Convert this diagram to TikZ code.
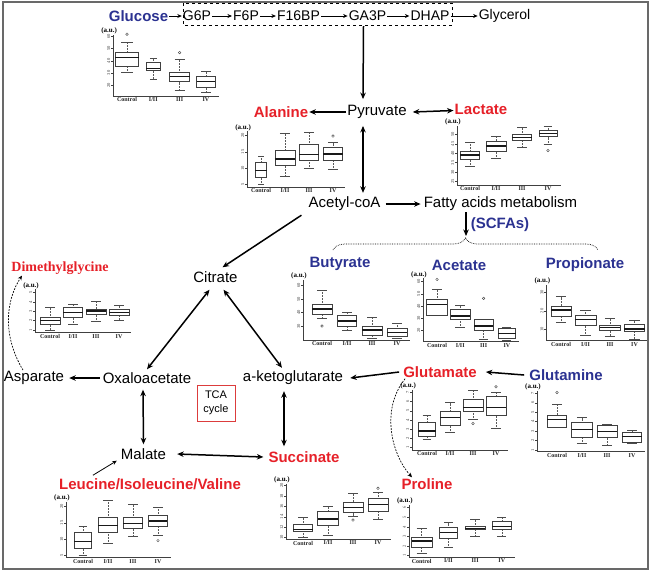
\documentclass[tikz,border=0pt]{standalone}
\usepackage{fontspec}
\setmainfont{Liberation Sans}
\newfontfamily\plotfont{Liberation Serif}
\usepackage{xcolor}
\usepackage{tikz}
\usetikzlibrary{arrows.meta,decorations.pathreplacing}
\definecolor{metred}{RGB}{230,32,40}
\definecolor{metblue}{RGB}{43,50,145}
\definecolor{tcared}{RGB}{220,60,60}
\definecolor{framegray}{RGB}{105,105,105}
\tikzset{met/.style={inner sep=1pt,font=\fontsize{15}{17}\selectfont},
  chainmet/.style={inner sep=1pt,font=\fontsize{14}{16}\selectfont},
  upmet/.style={inner sep=1pt,text=metred,font=\fontsize{15}{17}\selectfont\bfseries},
  dnmet/.style={inner sep=1pt,text=metblue,font=\fontsize{15}{17}\selectfont\bfseries},
  axl/.style={line width=0.6pt,draw=black!75},
  bx/.style={line width=0.6pt,draw=black!75},
  medl/.style={line width=1.4pt,draw=black!90},
  whisk/.style={line width=0.5pt,draw=black!65,densely dotted},
  capl/.style={line width=0.55pt,draw=black!70},
  outl/.style={line width=0.45pt,draw=black!70},
  ticklab/.style={rotate=90,anchor=south,inner sep=0.6pt,text=black!75,font=\plotfont\fontsize{4.5}{4.5}\selectfont},
  catlab/.style={anchor=north,inner sep=1.5pt,text=black!85,font=\plotfont\bfseries\fontsize{6}{6}\selectfont},
  aulab/.style={anchor=south,inner sep=0.5pt,xshift=-4pt,font=\plotfont\bfseries\fontsize{7}{7}\selectfont}}
% one box: position, half width, min, q1, median, q3, max
\newcommand{\bxgrp}[7]{%
  \draw[whisk] (#1,#3) -- (#1,#4) (#1,#6) -- (#1,#7);
  \draw[capl] ({#1-#2/2},#3) -- ({#1+#2/2},#3) ({#1-#2/2},#7) -- ({#1+#2/2},#7);
  \draw[bx] ({#1-#2},#4) rectangle ({#1+#2},#6);
  \draw[medl] ({#1-#2},#5) -- ({#1+#2},#5);}
\newcommand{\bxout}[2]{\draw[outl] (#1,#2) circle (1.3pt);}
% axes: axis x, low, top, ticks
\newcommand{\bxaxes}[4]{%
  \draw[axl] (#1,#3) -- (#1,#2) -- (4.5,#2);
  \foreach \t in {#4} {\draw[axl] (#1,\t) -- ++(-2pt,0) node[ticklab] {\t};}
  \foreach \g/\lab in {1/Control,2/{I/II},3/III,4/IV} {\node[catlab] at (\g,#2) {\lab};}
  \node[aulab] at (#1,#3) {(a.u.)};}

\begin{document}
\begin{tikzpicture}[x=1pt,y=-1pt,>={Stealth[length=6.5pt,width=5.5pt]}]
    \useasboundingbox (0,0) rectangle (650,574);
    \draw[framegray,line width=1.4pt] (3,2) rectangle (648,569);

    \node[dnmet] (glucose) at (138.5,16) {Glucose};
    \node[chainmet] (g6p) at (197,16) {G6P};
    \node[chainmet] (f6p) at (246,16) {F6P};
    \node[chainmet] (f16bp) at (298.5,16) {F16BP};
    \node[chainmet] (ga3p) at (367.5,16) {GA3P};
    \node[chainmet] (dhap) at (430,16) {DHAP};
    \node[chainmet] (glycerol) at (504.5,16) {Glycerol};
    \draw[dashed,line width=0.8pt] (183,3) rectangle (452,25);

    \node[met] (pyruvate) at (377,112) {Pyruvate};
    \node[upmet] (alanine) at (281,112) {Alanine};
    \node[upmet] (lactate) at (481,109.5) {Lactate};
    \node[met] (acetyl) at (344.5,204) {Acetyl-coA};
    \node[met] (fatty) at (500.5,204) {Fatty acids metabolism};
    \node[dnmet] (scfa) at (500,225) {(SCFAs)};
    \coordinate (brtip) at (466,236);
    \node[dnmet] (butyrate) at (340,264) {Butyrate};
    \node[dnmet] (acetate) at (459,265) {Acetate};
    \node[dnmet] (propionate) at (585,265) {Propionate};

    \node[met] (citrate) at (215.5,277) {Citrate};
    \node[inner sep=1pt,text=metred,font=\plotfont\bfseries\fontsize{14}{16}\selectfont] (dmg) at (60,268) {Dimethylglycine};
    \node[met] (asparate) at (34,378) {Asparate};
    \node[met] (oxalo) at (147,378) {Oxaloacetate};
    \node[met] (aketo) at (293,378) {a-ketoglutarate};
    \node[draw=tcared,line width=0.9pt,minimum width=38pt,minimum height=36pt,align=center,font=\fontsize{11}{14}\selectfont] (tca) at (216,403) {TCA\\cycle};
    \node[upmet] (glutamate) at (440,372) {Glutamate};
    \node[dnmet] (glutamine) at (566,375) {Glutamine};
    \node[met] (malate) at (143.5,454) {Malate};
    \node[upmet] (succinate) at (304,457) {Succinate};
    \node[upmet] (leucine) at (150,484) {Leucine/Isoleucine/Valine};
    \node[upmet] (proline) at (427,484) {Proline};

    \draw [->,line width=0.9pt,>={Stealth[length=4.5pt,width=4pt]}] (glucose) -- (g6p);
    \draw [->,line width=0.9pt,>={Stealth[length=4.5pt,width=4pt]}] (g6p) -- (f6p);
    \draw [->,line width=0.9pt,>={Stealth[length=4.5pt,width=4pt]}] (f6p) -- (f16bp);
    \draw [->,line width=0.9pt,>={Stealth[length=4.5pt,width=4pt]}] (f16bp) -- (ga3p);
    \draw [->,line width=0.9pt,>={Stealth[length=4.5pt,width=4pt]}] (ga3p) -- (dhap);
    \draw [->,line width=0.9pt,>={Stealth[length=4.5pt,width=4pt]}] (dhap) -- (glycerol);
    \draw [->,line width=1.5pt] ([xshift=-4pt,yshift=-4pt]ga3p.south) -- ([xshift=-14pt,yshift=5pt]pyruvate.north);
    \draw [->,line width=1.5pt] (pyruvate) -- (alanine);
    \draw [<->,line width=1.5pt] ([xshift=5pt]pyruvate.east) -- (lactate);
    \draw [<->,line width=1.5pt] ([xshift=-14pt,yshift=-6pt]pyruvate.south) -- ([xshift=18.5pt,yshift=3pt]acetyl.north);
    \draw [->,line width=1.5pt] ([xshift=4pt]acetyl.east) -- ([xshift=-2pt]fatty.west);
    \draw [->,line width=1.5pt] ([xshift=-34.5pt]fatty.south) -- (brtip);
    \draw [densely dotted,line width=0.7pt,decorate,decoration={brace,amplitude=12pt}] (333,250) -- (598,250);
    \draw [->,line width=1.5pt] ([xshift=-6pt,yshift=-3pt]acetyl.south west) -- ([xshift=7pt,yshift=3pt]citrate.north);
    \draw [<->,line width=1.5pt] ([xshift=-6pt,yshift=-6pt]citrate.south) -- ([yshift=2pt]oxalo.north);
    \draw [<->,line width=1.5pt] ([xshift=8pt,yshift=-6pt]citrate.south) -- ([xshift=-11pt,yshift=2pt]aketo.north);
    \draw [->,line width=1.5pt] ([xshift=-2pt]oxalo.west) -- ([xshift=4pt]asparate.east);
    \draw [<->,line width=1.5pt] ([xshift=-4pt,yshift=-5pt]oxalo.south) -- ([yshift=3pt]malate.north);
    \draw [<->,line width=1.5pt] ([xshift=-9pt,yshift=-5pt]aketo.south) -- ([xshift=-20pt,yshift=4pt]succinate.north);
    \draw [<->,line width=1.5pt] ([xshift=10pt]malate.east) -- ([xshift=-4pt]succinate.west);
    \draw [->,line width=0.8pt,>={Stealth[length=4.5pt,width=4pt]}] ([xshift=35pt,yshift=2pt]leucine.north west) -- ([xshift=-3pt]malate.south west);
    \draw [->,line width=1.5pt] ([xshift=-3pt]glutamate.west) -- ([xshift=6pt]aketo.east);
    \draw [->,line width=1.5pt] ([xshift=-4pt]glutamine.west) -- ([xshift=8pt]glutamate.east);
    \draw [->,line width=0.7pt,dash pattern=on 1.8pt off 1.3pt,>={Stealth[length=4.5pt,width=4pt]}] ([xshift=3pt]glutamate.south west) .. controls (380,410) and (392,455) .. ([xshift=-15pt]proline.north);
    \draw [->,line width=0.7pt,dash pattern=on 1.8pt off 1.3pt,>={Stealth[length=4.5pt,width=4pt]}] ([xshift=-11pt]asparate.north) .. controls (2,335) and (6,300) .. ([xshift=-38pt]dmg.south);

    % glucose
    \begin{scope}[shift={(100.7,109.2)},x=26.3pt,y=1.21pt]
        \bxaxes{0.47}{10.9}{61.3}{20,30,40,50,60}
        \bxgrp{1}{0.44}{30.5}{35.7}{42.6}{46.8}{55} \bxout{1}{62}
        \bxgrp{2}{0.27}{25}{31.9}{33.8}{38.8}{42}
        \bxgrp{3}{0.38}{15.3}{22.8}{26.9}{30.5}{41.5} \bxout{3}{46.8}
        \bxgrp{4}{0.35}{13.7}{18.1}{22.8}{26.9}{31.6}
    \end{scope}
    % alanine
    \begin{scope}[shift={(237,200.5)},x=24pt,y=3.24pt]
        \bxaxes{0.42}{4.2}{21.3}{5,10,15,20}
        \bxgrp{1}{0.24}{5}{7.2}{9.3}{11.7}{13.5}
        \bxgrp{2}{0.42}{7.4}{10.9}{12.8}{15.4}{20.9}
        \bxgrp{3}{0.4}{9.9}{12.5}{14.2}{17.3}{21.2}
        \bxgrp{4}{0.4}{9.6}{12.3}{14.3}{16.4}{17.9} \bxout{4}{19.9}
    \end{scope}
    % lactate
    \begin{scope}[shift={(444,229.05)},x=26pt,y=1.894pt]
        \bxaxes{0.5}{23.25}{54.5}{25,30,35,40,45,50}
        \bxgrp{1}{0.37}{33.25}{37}{39}{40.85}{46}
        \bxgrp{2}{0.38}{37.3}{40.85}{43.85}{46.5}{48.75}
        \bxgrp{3}{0.37}{43}{46.65}{48.25}{50}{53.7}
        \bxgrp{4}{0.34}{44.7}{48.75}{50.5}{52.3}{54.5} \bxout{4}{41.5}
    \end{scope}
    % dimethylglycine
    \begin{scope}[shift={(27,339.3)},x=23pt,y=9.33pt]
        \bxaxes{0.35}{0.71}{5.36}{1,2,3,4,5}
        \bxgrp{1}{0.43}{1}{1.64}{2}{2.36}{3.43}
        \bxgrp{2}{0.42}{1.6}{2.32}{2.86}{3.43}{3.79}
        \bxgrp{3}{0.43}{1.96}{2.68}{3.04}{3.25}{4.04}
        \bxgrp{4}{0.43}{2.07}{2.6}{2.89}{3.21}{3.64}
    \end{scope}
    % butyrate
    \begin{scope}[shift={(297,366.3)},x=25pt,y=1.343pt]
        \bxaxes{0.24}{19.6}{64.3}{30,40,50,60}
        \bxgrp{1}{0.4}{35.5}{38.9}{42.7}{46.1}{56.8} \bxout{1}{30}
        \bxgrp{2}{0.38}{26.5}{30}{33.7}{37.9}{39.9}
        \bxgrp{3}{0.4}{20.8}{23.3}{27}{30}{36.5}
        \bxgrp{4}{0.4}{20.8}{22.6}{25}{28.3}{32}
    \end{scope}
    % acetate
    \begin{scope}[shift={(413.7,355.2)},x=23.3pt,y=1.225pt]
        \bxaxes{0.4}{11}{62.7}{20,30,40,50,60}
        \bxgrp{1}{0.45}{32.8}{32.8}{41.5}{45.6}{53.7} \bxout{1}{61.9}
        \bxgrp{2}{0.42}{22.7}{29.5}{32}{37.7}{41}
        \bxgrp{3}{0.4}{12.9}{20}{24}{29.5}{29.5} \bxout{3}{46.4}
        \bxgrp{4}{0.38}{12.4}{13.7}{17.8}{21.9}{22.7}
    \end{scope}
    % propionate
    \begin{scope}[shift={(536.5,347.8)},x=24.5pt,y=1.85pt]
        \bxaxes{0.4}{3.9}{34}{10,20,30}
        \bxgrp{1}{0.41}{13.8}{17.2}{20.5}{22.6}{27.7}
        \bxgrp{2}{0.43}{6.9}{12.3}{15.4}{17.7}{20.5}
        \bxgrp{3}{0.42}{6.4}{9.6}{10.9}{12.3}{15.9}
        \bxgrp{4}{0.41}{4.8}{9.1}{10.2}{12.7}{14.7}
    \end{scope}
    % glutamate
    \begin{scope}[shift={(404,456.9)},x=23pt,y=9.22pt]
        \bxaxes{0.35}{0.75}{7.3}{1,2,3,4,5,6,7}
        \bxgrp{1}{0.38}{1.94}{2.26}{2.8}{3.7}{4.54}
        \bxgrp{2}{0.43}{2.66}{3.38}{4.25}{4.9}{5.9}
        \bxgrp{3}{0.43}{4.07}{4.97}{5.37}{6.23}{7.25} \bxout{3}{3.63}
        \bxgrp{4}{0.43}{3.1}{4.47}{5.37}{6.52}{7.06} \bxout{4}{7.6}
    \end{scope}
    % glutamine
    \begin{scope}[shift={(532,459.4)},x=25pt,y=9.43pt]
        \bxaxes{0.2}{0.82}{7.25}{1,2,3,4,5,6,7}
        \bxgrp{1}{0.39}{3.4}{3.4}{4.25}{4.71}{5.84} \bxout{1}{7.1}
        \bxgrp{2}{0.42}{1.7}{2.34}{3.19}{3.93}{4.43}
        \bxgrp{3}{0.4}{1.46}{2.34}{2.94}{3.65}{3.72}
        \bxgrp{4}{0.39}{1.7}{1.81}{2.41}{2.84}{3.12}
    \end{scope}
    % leucine/isoleucine/valine
    \begin{scope}[shift={(58,571.3)},x=25pt,y=3.23pt]
        \bxaxes{0.32}{4.3}{21.5}{5,10,15,20}
        \bxgrp{1}{0.35}{5.05}{7.1}{9.2}{12.1}{14}
        \bxgrp{2}{0.39}{8.7}{12.1}{14.1}{16.7}{22.1}
        \bxgrp{3}{0.39}{10.7}{13.3}{14.8}{16.7}{20.8}
        \bxgrp{4}{0.37}{11.2}{13.8}{15.6}{17.4}{19.7} \bxout{4}{9.5}
    \end{scope}
    % succinate
    \begin{scope}[shift={(278,589.7)},x=25pt,y=5.2pt]
        \bxaxes{0.32}{9.7}{20.4}{10,12,14,16,18,20}
        \bxgrp{1}{0.39}{10}{11.2}{11.6}{12.6}{13.9}
        \bxgrp{2}{0.41}{10.5}{12.3}{13.6}{15}{16}
        \bxgrp{3}{0.4}{14.2}{14.8}{15.8}{16.9}{18.5} \bxout{3}{13.4}
        \bxgrp{4}{0.4}{13.6}{15}{16.4}{17.6}{18.7} \bxout{4}{19.5}
    \end{scope}
    % proline
    \begin{scope}[shift={(395,565.3)},x=26.7pt,y=9.6pt]
        \bxaxes{0.52}{0.83}{6.3}{1,2,3,4,5,6}
        \bxgrp{1}{0.38}{1.24}{1.87}{2.53}{2.91}{3.85}
        \bxgrp{2}{0.33}{1.87}{2.8}{3.43}{3.95}{4.44}
        \bxgrp{3}{0.37}{2.98}{3.74}{3.85}{4.09}{4.82}
        \bxgrp{4}{0.35}{2.98}{3.74}{4.02}{4.54}{4.96}
    \end{scope}
\end{tikzpicture}
\end{document}
